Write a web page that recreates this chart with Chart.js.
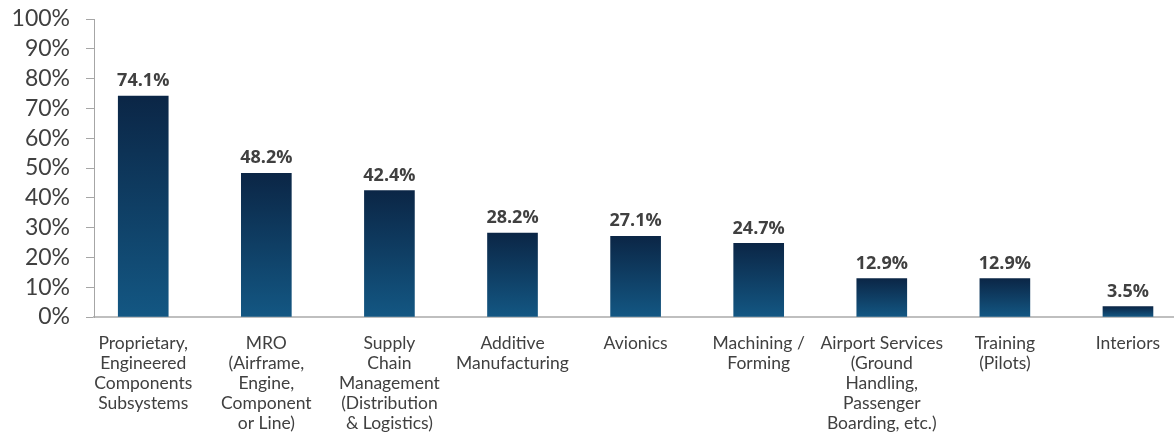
<!DOCTYPE html>
<html>
<head>
<meta charset="utf-8">
<script src="https://cdn.jsdelivr.net/npm/chart.js@4/dist/chart.umd.min.js"></script>
<style>
  html, body { margin: 0; padding: 0; background: #fff; }
  #wrap { width: 1174px; height: 432px; position: relative; }
</style>
</head>
<body>
<div id="wrap"><canvas id="sectors-chart"></canvas></div>
<script>
const categories = [
  ["Proprietary,", "Engineered", "Components", "Subsystems"],
  ["MRO", "(Airframe,", "Engine,", "Component", "or Line)"],
  ["Supply", "Chain", "Management", "(Distribution", "& Logistics)"],
  ["Additive", "Manufacturing"],
  ["Avionics"],
  ["Machining /", "Forming"],
  ["Airport Services", "(Ground", "Handling,", "Passenger", "Boarding, etc.)"],
  ["Training", "(Pilots)"],
  ["Interiors"],
];
const shares = [74.1, 48.2, 42.4, 28.2, 27.1, 24.7, 12.9, 12.9, 3.5];
const yTicks = [0, 10, 20, 30, 40, 50, 60, 70, 80, 90, 100];

const textColor = "#404040";
const axisColor = "#a6a6a6";
const barTop = "#0b2646";
const barBottom = "#135783";

// each bar gets its own dark-to-light gradient, from its top down to zero
function barFill(context) {
  const chart = context.chart;
  if (!chart.chartArea || context.type !== "data") return barBottom;
  const y = chart.scales.y;
  const top = y.getPixelForValue(context.parsed.y);
  const base = y.getPixelForValue(0);
  if (!isFinite(top) || base - top < 1) return barBottom;
  const g = chart.ctx.createLinearGradient(0, top, 0, base);
  g.addColorStop(0, barTop);
  g.addColorStop(1, barBottom);
  return g;
}

// value labels above the bars
const valueLabels = {
  id: "valueLabels",
  afterDatasetsDraw(chart) {
    const ctx = chart.ctx;
    const meta = chart.getDatasetMeta(0);
    ctx.save();
    ctx.font = "bold 18px 'Open Sans', sans-serif";
    ctx.fillStyle = textColor;
    ctx.textAlign = "center";
    ctx.textBaseline = "bottom";
    meta.data.forEach((bar, i) => {
      ctx.fillText(shares[i].toFixed(1) + "%", bar.x, bar.y - 6);
    });
    ctx.restore();
  },
};

const points = shares.map((v, i) => ({ x: i, y: v }));

new Chart(document.getElementById("sectors-chart"), {
  type: "bar",
  data: {
    datasets: [
      {
        data: points,
        backgroundColor: barFill,
        borderWidth: 0,
        barThickness: 50,
      },
    ],
  },
  options: {
    responsive: true,
    maintainAspectRatio: false,
    animation: false,
    layout: { padding: { top: 19, left: 0, right: 0, bottom: 0 } },
    plugins: {
      legend: { display: false },
      tooltip: { enabled: false },
    },
    scales: {
      x: {
        type: "linear",
        offset: false,
        min: -0.4,
        max: 8.374,
        afterFit: (scale) => {
          scale.height = 115;
          scale.paddingLeft = 0;
          scale.paddingRight = 0;
        },
        grid: { display: false },
        border: { display: true, color: "#bfbfbf", width: 2 },
        ticks: {
          stepSize: 1,
          includeBounds: false,
          autoSkip: false,
          maxRotation: 0,
          minRotation: 0,
          padding: 8,
          color: textColor,
          font: { family: "Lato", size: 17.5, lineHeight: "20px" },
          callback: (v) => (Number.isInteger(v) && categories[v] ? categories[v] : ""),
        },
      },
      y: {
        min: 0,
        max: 100,
        afterFit: (scale) => {
          scale.width = 94;
          scale.paddingTop = 0;
          scale.paddingBottom = 0;
        },
        afterBuildTicks: (scale) => { scale.ticks = yTicks.map((v) => ({ value: v })); },
        grid: {
          display: true,
          drawOnChartArea: false,
          drawTicks: true,
          tickLength: 8,
          color: axisColor,
          lineWidth: 1,
        },
        border: { display: true, color: axisColor, width: 1 },
        ticks: {
          autoSkip: false,
          padding: 16,
          color: textColor,
          font: { family: "Lato", size: 23 },
          callback: (v) => v + "%",
        },
      },
    },
  },
  plugins: [valueLabels],
});
</script>
</body>
</html>
